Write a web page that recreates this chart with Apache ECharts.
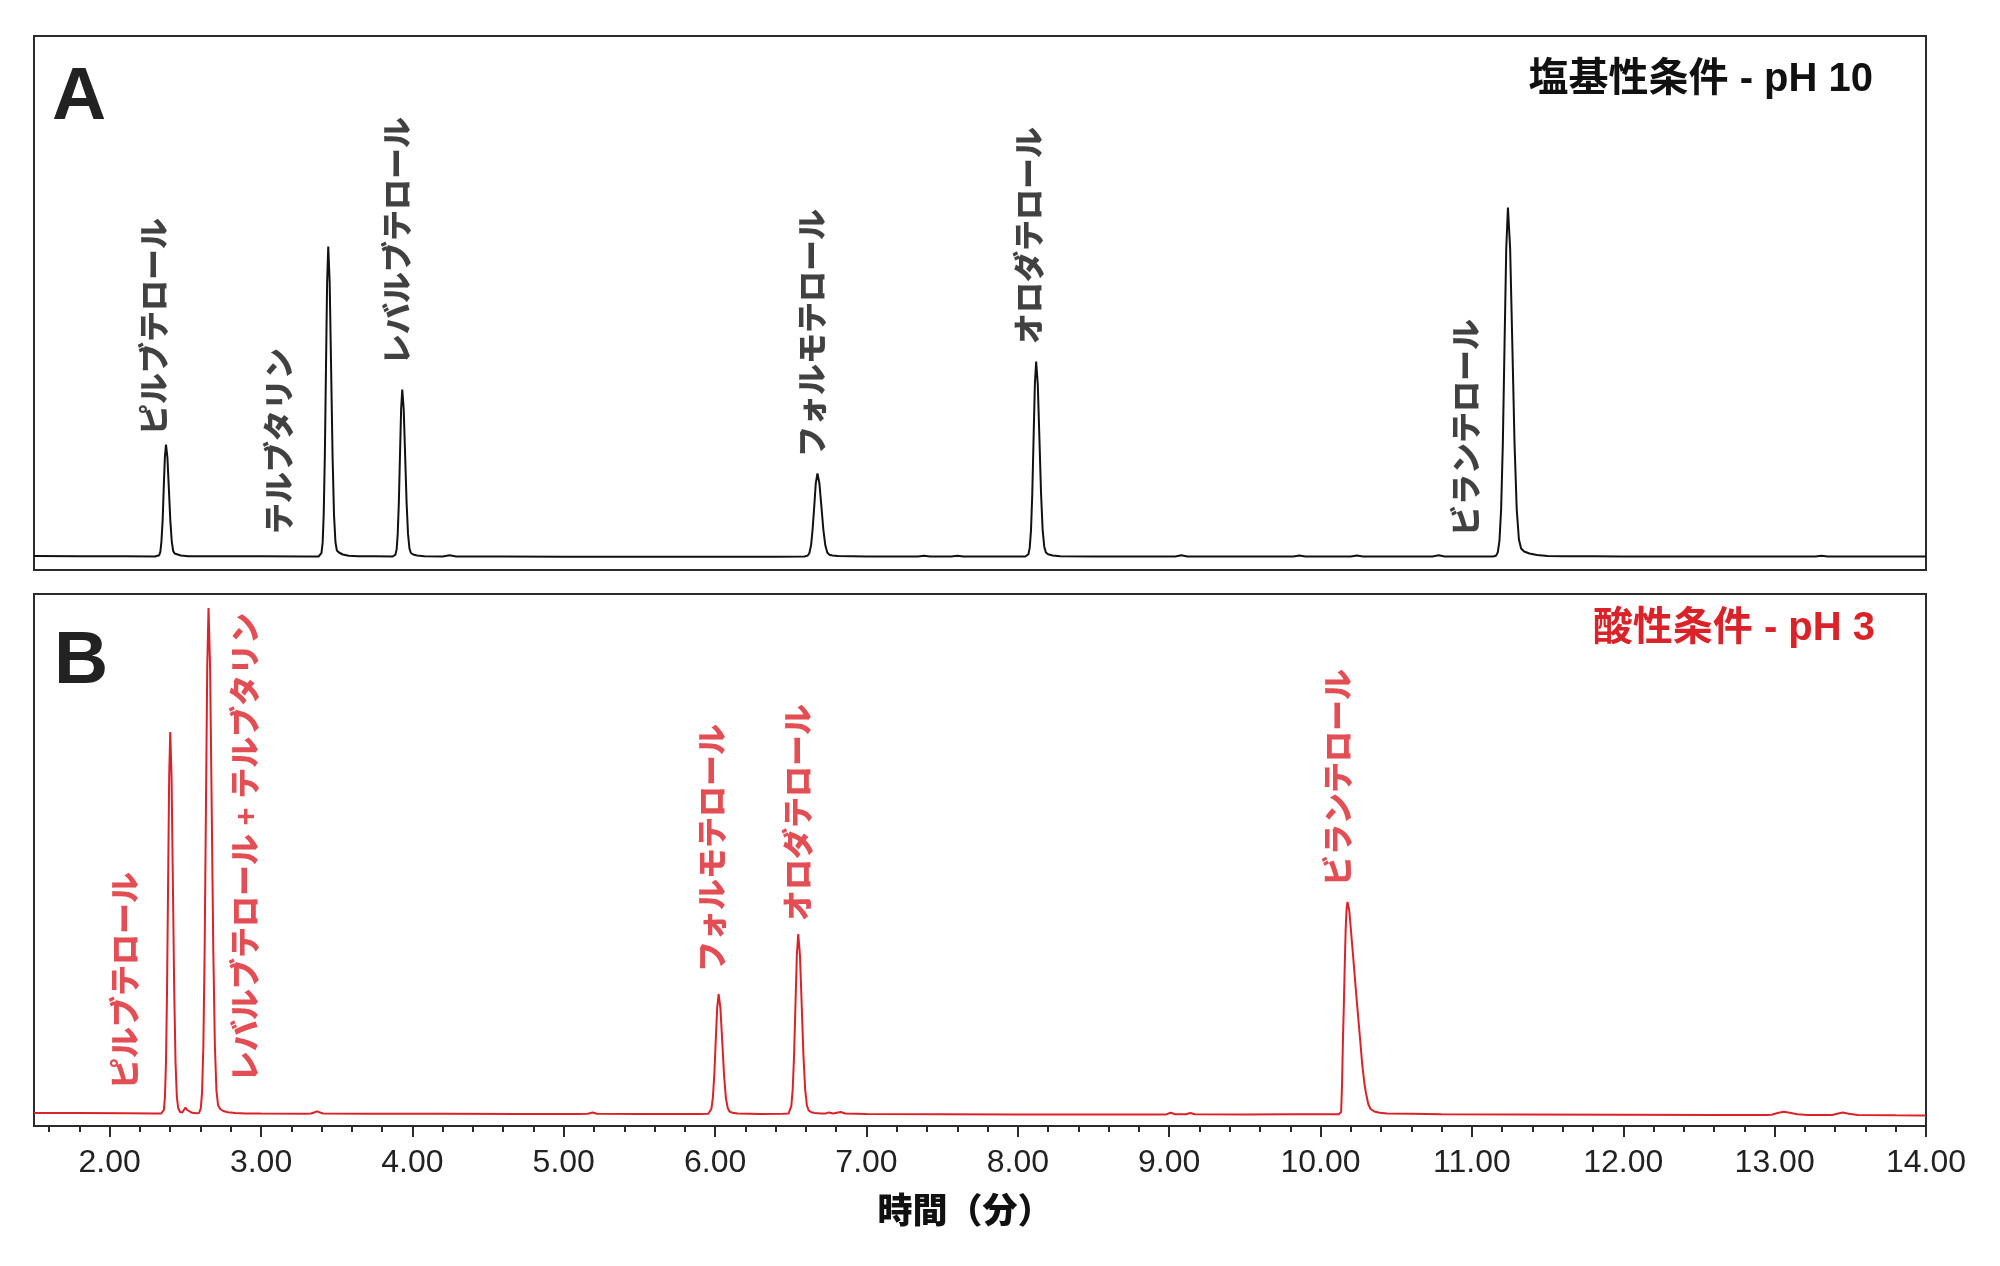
<!DOCTYPE html>
<html><head><meta charset="utf-8">
<script src="https://cdn.jsdelivr.net/npm/echarts@6/dist/echarts.min.js"></script>
<style>html,body{margin:0;padding:0;background:#fff}#c{width:2000px;height:1266px}</style>
</head><body><div id="c"></div>
<script>
// ---------- tick values (minutes) ----------
const majorTicks = [2,3,4,5,6,7,8,9,10,11,12,13,14];
const minorTicks = [1.6,1.8,2.2,2.4,2.6,2.8,3.2,3.4,3.6,3.8,4.2,4.4,4.6,4.8,5.2,5.4,5.6,5.8,6.2,6.4,6.6,6.8,7.2,7.4,7.6,7.8,8.2,8.4,8.6,8.8,9.2,9.4,9.6,9.8,10.2,10.4,10.6,10.8,11.2,11.4,11.6,11.8,12.2,12.4,12.6,12.8,13.2,13.4,13.6,13.8];

// ---------- Panel A (pH 10) trace: [time (min), signal] ----------
const baseA = [[1.5,0.5],[1.8,0.3],[2.1,0.2],[2.3,0],[2.7,0.2],[3.0,0.2],[3.3,0.1],[3.38,0],[3.75,0.2],[3.87,0],[4.2,0],[4.245,1.2],[4.29,0],[4.6,0],[5.0,-0.2],[5.5,-0.3],[6.0,-0.3],[6.4,-0.2],[6.59,0],[7.0,0],[7.34,0],[7.38,0.8],[7.42,0],[7.56,0],[7.6,0.7],[7.64,0],[7.8,0],[8.05,0],[8.5,0],[8.8,0],[9.04,0],[9.08,1.2],[9.12,0],[9.5,0],[9.82,0],[9.86,0.9],[9.9,0],[10.2,0],[10.24,1],[10.28,0],[10.5,0],[10.74,0],[10.78,1.2],[10.82,0],[11.0,0],[11.14,0],[11.8,0.2],[12.0,0.1],[12.5,0],[13.0,0],[13.27,0],[13.31,0.7],[13.35,0],[13.7,0],[14.0,0]];
const peakA_pirbuterol = [[2.327,1.2],[2.335,4.9],[2.342,15.2],[2.350,36.4],[2.357,67.9],[2.3645,98.8],[2.372,112],[2.3815,98.8],[2.391,67.9],[2.4005,36.4],[2.410,15.2],[2.4195,5.5],[2.429,3],[2.44,2],[2.47,1],[2.52,0.3]];
const peakA_terbutaline = [[3.391,0.6],[3.399,3.4],[3.407,13.6],[3.414,41.9],[3.4215,100.7],[3.429,188],[3.4365,273.6],[3.444,310],[3.4535,273.6],[3.463,188],[3.4725,100.7],[3.482,41.9],[3.4915,14.5],[3.501,6],[3.515,4],[3.54,2],[3.58,0.8],[3.64,0.2]];
const peakA_levalbuterol = [[3.888,1.9],[3.896,7.3],[3.903,22.6],[3.9105,54.2],[3.918,101.3],[3.9255,147.4],[3.933,167],[3.9425,147.4],[3.952,101.3],[3.9615,54.2],[3.971,22.6],[3.9805,8],[3.990,3.5],[4.005,2],[4.03,1],[4.08,0.3]];
const peakA_formoterol = [[6.612,0.9],[6.623,3.6],[6.634,11.2],[6.644,27],[6.655,50.3],[6.665,73.2],[6.676,83],[6.689,73.2],[6.702,50.3],[6.715,27],[6.728,11.2],[6.741,4],[6.754,1.8],[6.775,1],[6.81,0.4]];
const peakA_olodaterol = [[8.070,2.2],[8.0785,8.6],[8.087,26.4],[8.0955,63.3],[8.104,118.3],[8.1125,172.1],[8.121,195],[8.1318,172.1],[8.1425,118.3],[8.1533,63.3],[8.164,26.4],[8.1748,9.5],[8.1855,4],[8.20,2.2],[8.23,1],[8.28,0.3]];
const peakA_vilanterol = [[11.159,0.7],[11.1705,3.9],[11.1818,15.3],[11.193,47.2],[11.2043,113.3],[11.2155,211.7],[11.2268,308],[11.238,349],[11.2525,308],[11.267,211.7],[11.2815,113.3],[11.296,47.2],[11.3105,17],[11.325,8],[11.345,5],[11.38,3],[11.43,1.5],[11.5,0.6],[11.6,0.2]];

// ---------- Panel B (pH 3) trace ----------
const baseB = [[1.5,1],[1.8,0.9],[2.1,0.8],[2.3,0.5],[2.34,0.4],[3.0,0.4],[3.3,0.3],[3.7,0.3],[4.2,0.2],[4.7,0],[5.1,0],[5.5,0],[5.9,0],[6.3,0],[6.45,0.2],[7.0,0],[7.5,-0.3],[8.0,-0.4],[8.5,-0.4],[8.95,-0.4],[8.98,-0.4],[9.01,1.2],[9.04,-0.2],[9.11,-0.3],[9.14,1],[9.17,-0.3],[9.5,-0.4],[9.8,-0.2],[10.0,-0.3],[10.12,-0.2],[10.6,0.2],[10.8,-0.3],[11.3,-0.5],[12.0,-0.8],[12.6,-1],[12.95,-1],[12.98,-0.8],[13.02,1],[13.06,2.2],[13.1,1.2],[13.15,-0.3],[13.22,-1],[13.38,-1],[13.42,0.5],[13.45,1.5],[13.49,0.2],[13.55,-1],[13.8,-1.3],[14.0,-1.4]];
const peakB_pirbuterol = [[2.351,0.8],[2.358,4.2],[2.365,16.8],[2.372,51.7],[2.379,124],[2.386,231.7],[2.393,337.1],[2.400,382],[2.4088,337.1],[2.4175,231.7],[2.4263,124],[2.435,51.7],[2.4438,17],[2.4525,6],[2.465,2],[2.48,1.5],[2.49,4],[2.501,6.5],[2.512,4],[2.525,2],[2.545,1.2],[2.57,0.8]];
const peakB_levalb_terb = [[2.59,1.0],[2.602,5.6],[2.6105,22.2],[2.619,68.5],[2.6275,164.3],[2.636,306.9],[2.6445,446.5],[2.653,506],[2.6635,446.5],[2.674,306.9],[2.6845,164.3],[2.695,68.5],[2.7055,23],[2.716,9],[2.73,5],[2.75,3],[2.78,1.8],[2.83,1],[2.9,0.6]];
const bumpsB = [[3.33,0.5],[3.355,1.8],[3.37,2.6],[3.385,1.8],[3.41,0.5],[5.16,0.2],[5.19,1.5],[5.22,0.2]];
const peakB_formoterol = [[5.955,0.3],[5.966,1.3],[5.9755,5.3],[5.985,16.2],[5.9945,39],[6.004,72.8],[6.0135,105.9],[6.023,120],[6.035,105.9],[6.047,72.8],[6.059,39],[6.071,16.2],[6.083,6],[6.095,2.5],[6.115,1.2],[6.15,0.5]];
const peakB_olodaterol = [[6.485,0.4],[6.494,2],[6.5033,7.9],[6.5125,24.4],[6.5216,58.4],[6.5308,109.2],[6.5399,158.9],[6.549,180],[6.5605,158.9],[6.572,109.2],[6.5835,58.4],[6.595,24.4],[6.6065,8.5],[6.618,3.5],[6.635,1.8],[6.66,1],[6.70,0.6],[6.73,0.4],[6.75,1.6],[6.78,0.6],[6.83,2],[6.86,0.5]];
const peakB_vilanterol = [[10.130,0.3],[10.136,2],[10.142,30],[10.148,75],[10.154,110],[10.160,150],[10.166,185],[10.172,205],[10.178,212],[10.184,210],[10.19,203],[10.20,185],[10.215,158],[10.23,130],[10.245,103],[10.26,77],[10.275,50],[10.29,30],[10.30,21],[10.315,10],[10.33,5],[10.355,2.5],[10.39,1.2],[10.44,0.6]];

// ---------- peak labels ----------
const labelNamesA = ['ピルブテロール','テルブタリン','レバルブテロール','フォルモテロール','オロダテロール','ビランテロール'];
const labelTimesA = [2.312, 3.138, 3.917, 6.658, 8.092, 10.976];
const labelBaseA  = [121.5, 22.5, 191.5, 99.5, 212.5, 20.5];
const labelNamesB = ['ピルブテロール','レバルブテロール + テルブタリン','フォルモテロール','オロダテロール','ビランテロール'];
const labelTimesB = [2.118, 2.910, 5.993, 6.562, 10.133];
const labelBaseB  = [25, 32, 142, 193, 228];

const titleA = '塩基性条件 - pH 10';
const titleB = '酸性条件 - pH 3';
const xName = '時間（分）';

function trace(parts){ return [].concat(...parts).sort((a,b)=>a[0]-b[0]); }
const traceA = trace([baseA, peakA_pirbuterol, peakA_terbutaline, peakA_levalbuterol, peakA_formoterol, peakA_olodaterol, peakA_vilanterol]);
const traceB = trace([baseB, peakB_pirbuterol, peakB_levalb_terb, bumpsB, peakB_formoterol, peakB_olodaterol, peakB_vilanterol]);

const RED = '#db2229';
const JP = "'Noto Sans CJK JP', sans-serif";
const MIX = "'Liberation Sans', 'Noto Sans CJK JP', sans-serif";

function labelSeries(names, times, ys, xi, color){
  return {
    type:'scatter', xAxisIndex:xi, yAxisIndex:xi, symbolSize:0, silent:true, z:10,
    data: names.map((n,i)=>({name:n, value:[times[i], ys[i]]})),
    label:{show:true, position:'inside', formatter:'{b}', rotate:90, align:'left', verticalAlign:'middle',
      color:color, fontSize:31, fontWeight:900, fontFamily:MIX}
  };
}

const chart = echarts.init(document.getElementById('c'), null, {renderer:'canvas'});
chart.setOption({
  animation:false,
  backgroundColor:'#fff',
  grid:[
    {left:34, top:36, width:1892, height:534, show:true, borderColor:'#2b2b2b', borderWidth:2, backgroundColor:'transparent'},
    {left:34, top:594, width:1892, height:532, show:true, borderColor:'#2b2b2b', borderWidth:2, backgroundColor:'transparent'}
  ],
  xAxis:[
    {gridIndex:0, type:'value', min:1.5, max:14, show:false},
    {gridIndex:1, type:'value', min:1.5, max:14, position:'bottom',
      axisLine:{show:true, onZero:false, lineStyle:{color:'#2b2b2b', width:2}},
      axisTick:{show:true, inside:false, customValues:majorTicks, length:11, lineStyle:{color:'#2b2b2b', width:2}},
      axisLabel:{show:true, customValues:majorTicks, formatter:v=>Number(v).toFixed(2), margin:21, fontSize:32, fontFamily:"'Liberation Sans', sans-serif", color:'#222'},
      splitLine:{show:false},
      name:xName, nameLocation:'middle', nameGap:66,
      nameTextStyle:{fontSize:35, fontWeight:900, fontFamily:JP, color:'#111', padding:[0,30,0,0]}},
    {gridIndex:1, type:'value', min:1.5, max:14, position:'bottom', offset:0,
      axisLine:{show:false, onZero:false},
      axisTick:{show:true, inside:false, customValues:minorTicks, length:6, lineStyle:{color:'#2b2b2b', width:2}},
      axisLabel:{show:false}, splitLine:{show:false}}
  ],
  yAxis:[
    {gridIndex:0, type:'value', min:-13.5, max:520.5, show:false},
    {gridIndex:1, type:'value', min:-12, max:520, show:false}
  ],
  series:[
    {type:'line', xAxisIndex:0, yAxisIndex:0, data:traceA, showSymbol:false, symbol:'none', silent:true,
      lineStyle:{color:'#111', width:2}, itemStyle:{color:'#111'}},
    {type:'line', xAxisIndex:1, yAxisIndex:1, data:traceB, showSymbol:false, symbol:'none', silent:true,
      lineStyle:{color:RED, width:2}, itemStyle:{color:RED}},
    labelSeries(labelNamesA, labelTimesA, labelBaseA, 0, '#111'),
    labelSeries(labelNamesB, labelTimesB, labelBaseB, 1, RED)
  ],
  graphic:[
    {type:'text', x:52, y:98, style:{text:'A', fontSize:75, fontWeight:'bold', fontFamily:"'Liberation Sans', sans-serif", fill:'#222', align:'left', verticalAlign:'middle'}},
    {type:'text', x:54, y:662, style:{text:'B', fontSize:75, fontWeight:'bold', fontFamily:"'Liberation Sans', sans-serif", fill:'#222', align:'left', verticalAlign:'middle'}},
    {type:'text', x:1873, y:80, style:{text:titleA, fontSize:40, fontWeight:'bold', fontFamily:MIX, fill:'#111', align:'right', verticalAlign:'middle'}},
    {type:'text', x:1875, y:629, style:{text:titleB, fontSize:40, fontWeight:'bold', fontFamily:MIX, fill:RED, align:'right', verticalAlign:'middle'}}
  ]
});
</script></body></html>
